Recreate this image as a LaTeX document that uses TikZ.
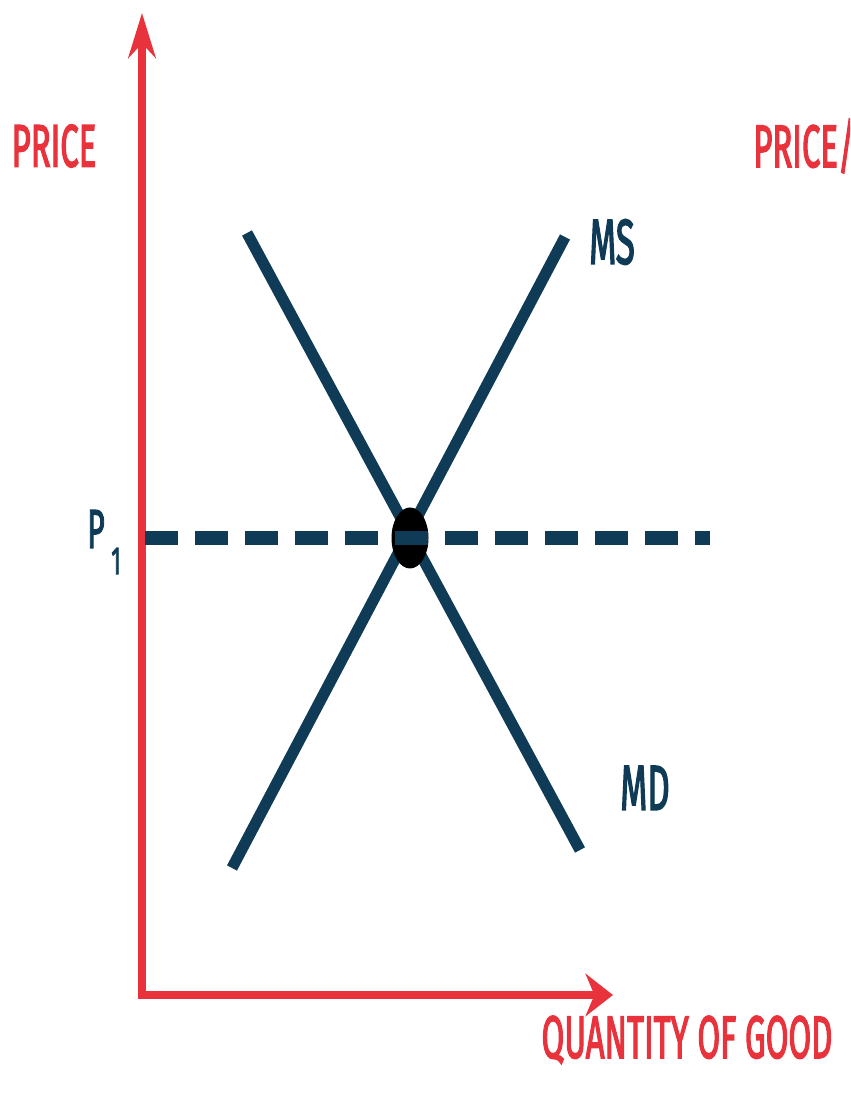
\documentclass[tikz,border=0pt]{standalone}
\usepackage{fontspec}
\setmainfont{Fira Sans}
\newfontfamily\moyen{Fira Sans}[FakeBold=3]
\usetikzlibrary{positioning, arrows.meta, shapes.geometric}
\definecolor{axerouge}{HTML}{E8323C}
\definecolor{courbe}{HTML}{0F3B56}
\newcommand{\etroit}[1]{\scalebox{0.55}[1]{#1}}

\begin{document}
\begin{tikzpicture}[
    axe/.style={line width=4pt, axerouge},
    droite/.style={line width=6.4pt, courbe},
    titre/.style={font=\fontsize{34}{36}\moyen, axerouge, inner sep=0pt},
    nom/.style={font=\fontsize{36}{38}\moyen, courbe, inner sep=0pt}]

  \useasboundingbox (0,0) rectangle (17,21.86);
  \clip (0,0) rectangle (17,21.86);

  % --- axes ---
  \coordinate (O) at (2.84,1.96);
  \coordinate (haut) at (2.84,21.6);
  \coordinate (qfin) at (12.26,1.96);
  \draw[axe, {Stealth[length=0.9cm, width=0.55cm]}-{Stealth[length=0.55cm, width=0.85cm]}]
    (haut) -- (O) -- (qfin);
  \node[titre] (prix) at (1.08,18.94) {\etroit{PRICE}};
  \node[titre, anchor=west] (prix2) at (15.06,18.94) {\etroit{PRICE/}};
  \node[titre] (quant) at (13.74,1.06) {\etroit{QUANTITY OF GOOD}};

  % --- offre et demande ---
  \coordinate (ms0) at (4.64,4.50);
  \coordinate (ms1) at (11.30,17.12);
  \coordinate (md0) at (4.94,17.20);
  \coordinate (md1) at (11.60,4.86);
  \draw[droite] (ms0) -- (ms1);
  \draw[droite] (md0) -- (md1);
  \node[nom] (ms) at (12.24,17.02) {\etroit{MS}};
  \node[nom] (md) at (12.90,6.10) {\etroit{MD}};

  % --- equilibre ---
  \node[ellipse, fill=black, minimum width=0.74cm, minimum height=1.22cm, inner sep=0pt] (eq) at (8.2,11.1) {};
  \coordinate (p1) at (2.90,11.1);
  \coordinate (pfin) at (14.2,11.1);
  \draw[courbe, line width=8pt, dash pattern=on 0.66cm off 0.34cm] (p1) -- (pfin);
  \node[nom, font=\fontsize{31}{32}\moyen] (p) at (1.92,11.28) {\etroit{P}};
  \node[nom, font=\fontsize{22}{24}\moyen] (un) at (2.32,10.64) {\etroit{1}};
\end{tikzpicture}
\end{document}
